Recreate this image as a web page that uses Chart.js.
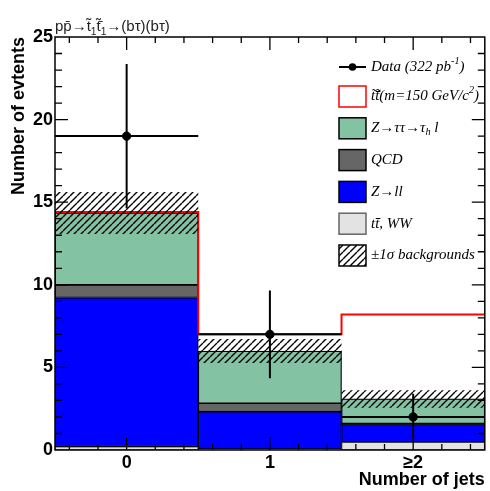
<!DOCTYPE html>
<html><head><meta charset="utf-8">
<script src="https://cdn.jsdelivr.net/npm/chart.js@4.4.1/dist/chart.umd.min.js"></script>
<style>html,body{margin:0;padding:0;background:#fff}</style>
</head><body>
<canvas id="c" width="490" height="491"></canvas>
<script>
// ---- data ----
const categories = ['0', '1', '\u22652'];
const ttWW   = [0.20, 0.06, 0.48];
const zll    = [9.03, 2.26, 1.07];
const qcd    = [0.76, 0.51, 0.05];
const ztt    = [4.36, 3.16, 1.49];
const signal = [0.05, 1.01, 5.11];
const bkgErr = [1.27, 0.73, 0.53];
const dataVals = [19, 7, 2];
const dataErr  = [4.36, 2.65, 1.41];
const yTickLabels = [0, 5, 10, 15, 20, 25];

// ---- derived stacks ----
const comps = [ttWW, zll, qcd, ztt];
const cum = [categories.map(() => 0)];
comps.forEach((c, k) => cum.push(c.map((v, i) => cum[k][i] + v)));
const bkgTot = cum[cum.length - 1];
const sigTot = bkgTot.map((v, i) => v + signal[i]);

function hatchPattern() {
  const s = 7, pc = document.createElement('canvas');
  const r = window.devicePixelRatio || 1;
  pc.width = pc.height = s * r;
  const g = pc.getContext('2d');
  g.scale(r, r);
  g.strokeStyle = '#000'; g.lineWidth = 1.4;
  g.beginPath();
  for (const k of [-s, 0, s]) { g.moveTo(k, s); g.lineTo(k + s, 0); }
  g.stroke();
  const ctx = document.getElementById('c').getContext('2d');
  const p = ctx.createPattern(pc, 'repeat');
  if (r !== 1 && p.setTransform) p.setTransform(new DOMMatrix([1 / r, 0, 0, 1 / r, 0, 0]));
  return p;
}
const hatch = hatchPattern();

const colors = { ttWW: '#e3e3e3', zll: '#0000ff', qcd: '#666666', ztt: '#84c2a4' };

function barSet(label, k, bg, border, order) {
  return {
    type: 'bar', label, order, grouped: false,
    data: categories.map((_, i) => ({ x: i, y: [cum[k][i], cum[k + 1][i]] })),
    backgroundColor: bg, borderColor: border, borderWidth: 1.2, borderSkipped: false,
    barPercentage: 1, categoryPercentage: 1
  };
}

const stepPts = categories.map((_, i) => ({ x: i - 0.5, y: sigTot[i] }));
stepPts.push({ x: categories.length - 0.5, y: sigTot[sigTot.length - 1] });

const datasets = [
  { type: 'line', label: 'Data', order: 0, showLine: false,
    data: dataVals.map((v, i) => ({ x: i, y: v })),
    pointRadius: 4.2, pointBackgroundColor: '#000', pointBorderColor: '#000', borderColor: '#000' },
  { type: 'bar', label: 'band', order: 1, grouped: false,
    data: categories.map((_, i) => ({ x: i, y: [bkgTot[i] - bkgErr[i], bkgTot[i] + bkgErr[i]] })),
    backgroundColor: hatch, borderWidth: 0, inflateAmount: 0, barPercentage: 1, categoryPercentage: 1 },
  { type: 'line', label: 'signal', order: 2, stepped: true, data: stepPts,
    borderColor: '#ff0000', borderWidth: 2, pointRadius: 0, fill: false },
  barSet('Ztt', 3, colors.ztt, '#000', 3),
  barSet('QCD', 2, colors.qcd, '#000', 4),
  barSet('Zll', 1, colors.zll, '#000', 5),
  barSet('ttWW', 0, colors.ttWW, '#555', 6)
];

const sansBold = (s) => ({ family: "'Liberation Sans', Arial, sans-serif", weight: 'bold', size: s });

function drawRich(ctx, x, y, parts, size, family, style) {
  let cx = x;
  for (const [t, kind] of parts) {
    let fs = size, dy = 0;
    if (kind === 'sup') { fs = size * 0.68; dy = -size * 0.38; }
    if (kind === 'sub') { fs = size * 0.68; dy = size * 0.28; }
    ctx.font = `${style} ${fs}px ${family}`;
    ctx.fillText(t, cx, y + dy);
    cx += ctx.measureText(t).width;
  }
}

const legendItems = [
  { kind: 'data', parts: [['Data (322 pb'], ['-1', 'sup'], [')']] },
  { kind: 'box', fill: '#ffffff', stroke: '#ff0000', parts: [['t\u0303t\u0303\u0304(m=150 GeV/c'], ['2', 'sup'], [')']] },
  { kind: 'box', fill: colors.ztt, stroke: '#000', parts: [['Z\u2192\u03c4\u03c4\u2192\u03c4'], ['h', 'sub'], [' l']] },
  { kind: 'box', fill: colors.qcd, stroke: '#000', parts: [['QCD']] },
  { kind: 'box', fill: colors.zll, stroke: '#000', parts: [['Z\u2192ll']] },
  { kind: 'box', fill: colors.ttWW, stroke: '#666', parts: [['t'], ['t\u0304, WW']] },
  { kind: 'hatch', fill: hatch, stroke: '#000', parts: [['\u00b11\u03c3 backgrounds']] }
];

const overlay = {
  id: 'overlay',
  afterDatasetsDraw(chart) {
    const { ctx, chartArea: a, scales: { x, y } } = chart;
    ctx.save();
    // data error bars
    ctx.strokeStyle = '#000'; ctx.lineWidth = 2;
    dataVals.forEach((v, i) => {
      const px = x.getPixelForValue(i), py = y.getPixelForValue(v);
      ctx.beginPath();
      ctx.moveTo(px, y.getPixelForValue(v - dataErr[i]));
      ctx.lineTo(px, y.getPixelForValue(Math.min(v + dataErr[i], y.max)));
      ctx.moveTo(x.getPixelForValue(i - 0.5), py);
      ctx.lineTo(x.getPixelForValue(i + 0.5), py);
      ctx.stroke();
    });
    // frame
    ctx.lineWidth = 1.5;
    ctx.strokeRect(a.left, a.top, a.right - a.left, a.bottom - a.top);
    // ticks
    ctx.lineWidth = 1.3;
    ctx.beginPath();
    for (let k = -2; k <= 12; k++) {
      const v = k / 5, major = k % 5 === 0, len = major ? 13 : 6;
      const px = x.getPixelForValue(v);
      ctx.moveTo(px, a.bottom); ctx.lineTo(px, a.bottom - len);
      ctx.moveTo(px, a.top); ctx.lineTo(px, a.top + len);
    }
    for (let v = 1; v < 25; v++) {
      const major = v % 5 === 0, len = major ? 13 : 7;
      const py = y.getPixelForValue(v);
      ctx.moveTo(a.left, py); ctx.lineTo(a.left + len, py);
      ctx.moveTo(a.right, py); ctx.lineTo(a.right - len, py);
    }
    ctx.stroke();
    ctx.restore();
  },
  afterDraw(chart) {
    const { ctx, chartArea: a } = chart;
    ctx.save();
    // title
    ctx.fillStyle = '#222'; ctx.textBaseline = 'alphabetic'; ctx.textAlign = 'left';
    drawRich(ctx, a.left, 31, [['pp\u0304\u2192t\u0303'], ['1', 'sub'], ['t\u0303\u0304'], ['1', 'sub'], ['\u2192(b\u03c4)(b\u03c4)']],
      15, "'Liberation Sans', Arial, sans-serif", 'normal');
    // legend
    const bx = 339, bw = 27, bh = 21, tx = 371, y0 = 67, dy = 31.8;
    legendItems.forEach((it, i) => {
      const cy = y0 + i * dy + (i > 0 ? -2.3 : 0);
      if (it.kind === 'data') {
        ctx.strokeStyle = '#000'; ctx.lineWidth = 2;
        ctx.beginPath(); ctx.moveTo(bx, cy); ctx.lineTo(bx + bw, cy); ctx.stroke();
        ctx.fillStyle = '#000';
        ctx.beginPath(); ctx.arc(bx + bw / 2, cy, 3.8, 0, Math.PI * 2); ctx.fill();
      } else {
        ctx.fillStyle = it.fill;
        ctx.fillRect(bx, cy - bh / 2, bw, bh);
        ctx.strokeStyle = it.stroke; ctx.lineWidth = 1.5;
        ctx.strokeRect(bx, cy - bh / 2, bw, bh);
      }
      ctx.fillStyle = '#000'; ctx.textBaseline = 'middle';
      drawRich(ctx, tx, cy, it.parts, 15, "'Liberation Serif', 'Times New Roman', serif", 'italic');
    });
    ctx.restore();
  }
};

new Chart(document.getElementById('c'), {
  type: 'bar',
  data: { datasets },
  plugins: [overlay],
  options: {
    responsive: false, animation: false,
    layout: { padding: { top: 37, right: 3, left: 0, bottom: 0 } },
    plugins: { legend: { display: false }, tooltip: { enabled: false }, title: { display: false } },
    scales: {
      x: {
        type: 'linear', min: -0.5, max: 2.5, offset: false, stacked: false,
        grid: { display: false, drawTicks: false, offset: false }, border: { display: false },
        afterBuildTicks: (s) => { s.ticks = categories.map((_, i) => ({ value: i })); },
        ticks: { callback: (v) => categories[v] ?? '', font: sansBold(18), color: '#000', padding: 2, maxRotation: 0, autoSkip: false },
        title: { display: true, text: 'Number of jets', align: 'end', color: '#000', font: sansBold(18), padding: { top: 0, bottom: 0 } },
        afterFit: (s) => { s.height = 41; }
      },
      y: {
        type: 'linear', min: 0, max: 25, stacked: false,
        grid: { display: false, drawTicks: false }, border: { display: false },
        afterBuildTicks: (s) => { s.ticks = yTickLabels.map(v => ({ value: v })); },
        ticks: { font: sansBold(18), color: '#000', padding: 2 },
        title: { display: true, text: 'Number of evtents', align: 'end', color: '#000', font: sansBold(18), padding: { top: 8, bottom: 0 } },
        afterFit: (s) => { s.width = 55; }
      }
    }
  }
});
</script>
</body></html>
